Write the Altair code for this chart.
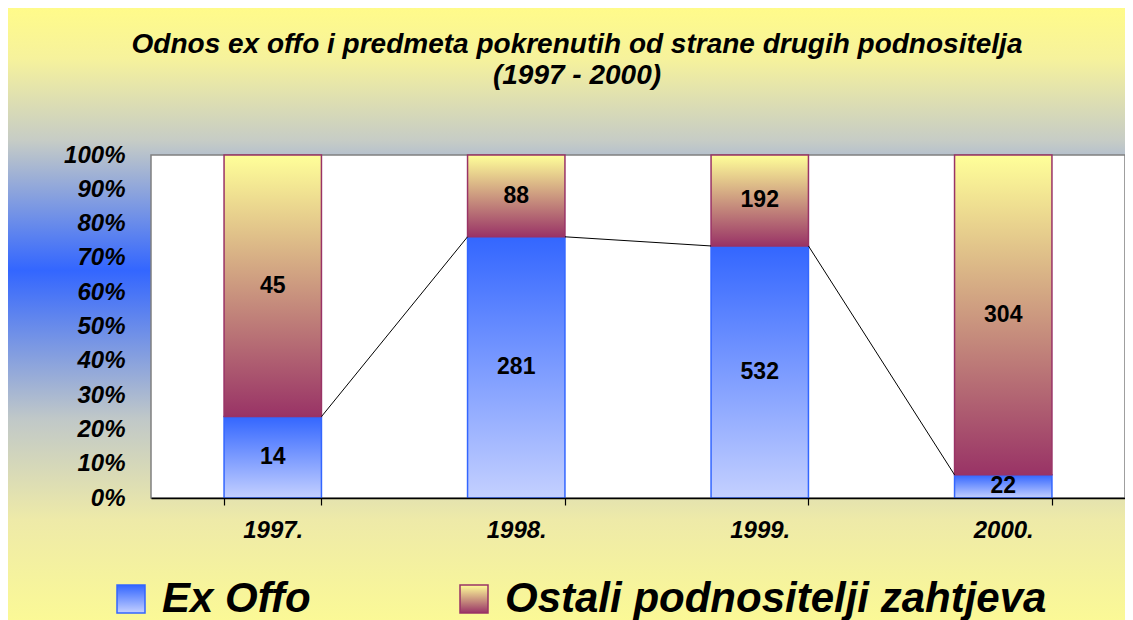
import altair as alt
import pandas as pd

# ---------------- data ----------------
years = ["1997.", "1998.", "1999.", "2000."]
ex_offo = [14, 281, 532, 22]
ostali = [45, 88, 192, 304]
series = ["Ex Offo", "Ostali podnositelji zahtjeva"]
title_lines = ["Odnos ex offo i predmeta pokrenutih od strane drugih podnositelja", "(1997 - 2000)"]
y_ticks = [0, 0.1, 0.2, 0.3, 0.4, 0.5, 0.6, 0.7, 0.8, 0.9, 1.0]

W, H = 974, 343
FONT = "Liberation Sans"
BLUE, MAROON = "#3366ff", "#993366"

df = pd.DataFrame({"year": years, "ex": ex_offo, "ost": ostali})
df["total"] = df["ex"] + df["ost"]
df["p"] = df["ex"] / df["total"]
df["zero"] = 0.0
df["one"] = 1.0
df["mid_ex"] = df["p"] / 2
df["mid_ost"] = (1 + df["p"]) / 2

lines = pd.DataFrame({
    "year": years[:-1],
    "next": years[1:],
    "p": df["p"].values[:-1],
    "p_next": df["p"].values[1:],
})

legend_df = pd.DataFrame({
    "series": series, "idx": [0, 1], "year": [years[0], years[0]], "p": [0.5, 0.5]
})


def vgrad(stops):
    return alt.Gradient(
        gradient="linear", x1=0, y1=0, x2=0, y2=1,
        stops=[alt.GradientStop(offset=o, color=c) for o, c in stops],
    )


BLUE_GRAD = vgrad([(0, BLUE), (1, "#c4d0ff")])
OST_GRAD = vgrad([(0, "#ffff99"), (1, MAROON)])
BG_GRAD = vgrad([
    (0.0, "#fffb8a"), (0.08, "#f6f29c"), (0.21, "#c6ccc6"),
    (0.415, BLUE), (0.65, "#c0c8c8"), (0.81, "#eeeaa8"),
    (0.97, "#fbf996"), (1.0, "#fffb90"),
])

xscale = alt.Scale(domain=years, paddingInner=0.6, paddingOuter=0.3)
yscale = alt.Scale(domain=[0, 1], nice=False)
series_scale = alt.Scale(domain=series, range=[BLUE, MAROON])

xaxis = alt.Axis(
    title=None, tickBand="extent", domainColor="black", domainWidth=1.5,
    tickColor="black", tickSize=7, tickWidth=1.2, labelFont=FONT, labelFontSize=24,
    labelFontWeight="bold", labelFontStyle="italic", labelColor="black",
    labelPadding=13, labelAngle=0, grid=False, zindex=1,
)
yaxis = alt.Axis(
    title=None, values=y_ticks, format=".0%", domain=False, ticks=False,
    labelPadding=26, labelFont=FONT, labelFontSize=24, labelFontWeight="bold",
    labelFontStyle="italic", labelColor="black", grid=False, zindex=1,
)

sym_fill = (
    "datum.value === 'Ex Offo' ? "
    "{gradient: 'linear', x1: 0, y1: 0, x2: 0, y2: 1, stops: [{offset: 0, color: '#3366ff'}, {offset: 1, color: '#c4d0ff'}]} : "
    "{gradient: 'linear', x1: 0, y1: 0, x2: 0, y2: 1, stops: [{offset: 0, color: '#ffff99'}, {offset: 1, color: '#993366'}]}"
)

legend = alt.Legend(
    title=None, orient="none", legendX=-41, legendY=423, direction="horizontal",
    symbolType="square", symbolSize=784, symbolStrokeWidth=1.5,
    symbolFillColor={"expr": sym_fill}, symbolOpacity=1,
    labelFont=FONT, labelFontSize=42, labelFontWeight="bold", labelFontStyle="italic",
    labelColor="black", labelOffset=10, columnPadding=142, padding=0, labelLimit=1000,
    zindex=1,
)

one_row = alt.Data(values=[{"k": 1}])

# legend carrier: drawn first, hidden under the background
legend_layer = alt.Chart(legend_df).mark_square(size=4, strokeWidth=1.5).encode(
    x=alt.X("year:N", scale=xscale, sort=years, axis=xaxis),
    y=alt.Y("p:Q", scale=yscale, axis=yaxis),
    fill=alt.Fill("idx:N", scale=alt.Scale(domain=[0, 1], range=["#c4d0ff", "#ffff99"]), legend=None),
    stroke=alt.Stroke("series:N", scale=series_scale, legend=legend),
)

bg = alt.Chart(one_row).mark_rect(fill=BG_GRAD).encode(
    x=alt.value(-143), x2=alt.value(W), y=alt.value(-147), y2=alt.value(H + 142)
)
plot_bg = alt.Chart(one_row).mark_rect(fill="white", stroke="#808080", strokeWidth=1.5).encode(
    x=alt.value(0), x2=alt.value(W), y=alt.value(0), y2=alt.value(H)
)

base = alt.Chart(df)

bars_ex = base.mark_bar(fill=BLUE_GRAD, stroke=BLUE, strokeWidth=1.5).encode(
    x=alt.X("year:N", scale=xscale, sort=years, axis=xaxis),
    y=alt.Y("p:Q", scale=yscale, axis=yaxis),
    y2=alt.Y2("zero:Q"),
)

bars_ost = base.mark_bar(fill=OST_GRAD, stroke=MAROON, strokeWidth=1.5).encode(
    x=alt.X("year:N", scale=xscale, sort=years, axis=xaxis),
    y=alt.Y("one:Q", scale=yscale, axis=yaxis),
    y2=alt.Y2("p:Q"),
)

series_lines = alt.Chart(lines).mark_rule(color="black", strokeWidth=1).encode(
    x=alt.X("year:N", scale=xscale, sort=years, bandPosition=1, axis=xaxis),
    x2=alt.X2("next:N", bandPosition=0),
    y=alt.Y("p:Q", scale=yscale, axis=yaxis),
    y2=alt.Y2("p_next:Q"),
)

txt_kw = dict(font=FONT, fontSize=23, fontWeight="bold", color="black", baseline="middle")
lab_ex = base.mark_text(**txt_kw).encode(
    x=alt.X("year:N", scale=xscale, sort=years, axis=xaxis),
    y=alt.Y("mid_ex:Q", scale=yscale, axis=yaxis),
    text=alt.Text("ex:Q"),
)
lab_ost = base.mark_text(**txt_kw).encode(
    x=alt.X("year:N", scale=xscale, sort=years, axis=xaxis),
    y=alt.Y("mid_ost:Q", scale=yscale, axis=yaxis),
    text=alt.Text("ost:Q"),
)

chart = alt.layer(
    legend_layer, bg, plot_bg, bars_ex, bars_ost, series_lines, lab_ex, lab_ost
).properties(
    width=W,
    height=H,
    padding={"left": 143, "top": 147, "right": 0, "bottom": 142},
    autosize=alt.AutoSizeParams(type="none"),
    title=alt.TitleParams(
        text=title_lines, font=FONT, fontSize=28, fontWeight="bold", fontStyle="italic",
        color="black", lineHeight=31, offset=-82, anchor="middle", dx=-61, zindex=1,
    ),
).configure_view(strokeWidth=0)

chart.save("out.html", embed_options={"renderer": "svg", "actions": False})
